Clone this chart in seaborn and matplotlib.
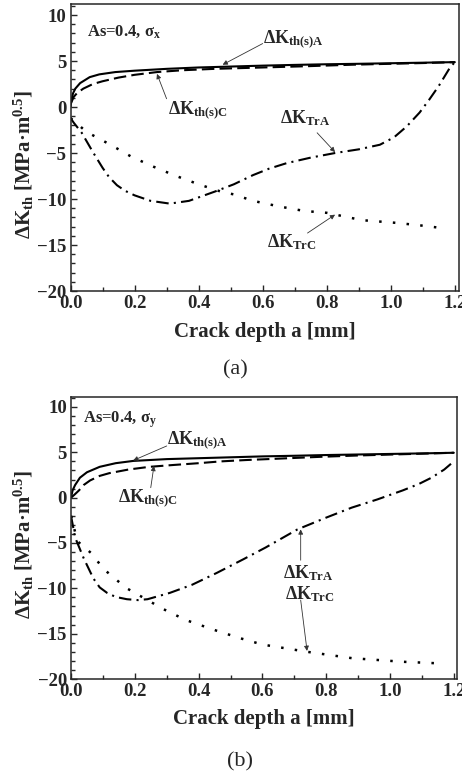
import matplotlib
matplotlib.use("Agg")
import matplotlib.pyplot as plt
import numpy as np
import seaborn as sns
from matplotlib.ticker import MultipleLocator

sns.set_style("ticks")
plt.rcParams["font.family"] = ["Liberation Serif", "DejaVu Serif"]
plt.rcParams["font.weight"] = "bold"
plt.rcParams["mathtext.fontset"] = "custom"
plt.rcParams["mathtext.rm"] = "Liberation Serif:bold"
plt.rcParams["mathtext.bf"] = "Liberation Serif:bold"
plt.rcParams["mathtext.it"] = "Liberation Serif:bold"

# ---- panel (a): sigma_x ----
a_sA_x = [0.0, 0.003, 0.008, 0.015, 0.03, 0.06, 0.09, 0.14, 0.20, 0.30, 0.40, 0.50, 0.60, 0.70, 0.80, 0.90, 1.00, 1.10, 1.20]
a_sA_y = [0.0, 0.8, 1.5, 2.0, 2.6, 3.25, 3.55, 3.8, 3.95, 4.15, 4.3, 4.4, 4.5, 4.58, 4.65, 4.7, 4.76, 4.82, 4.88]

a_sC_x = [0.0, 0.01, 0.02, 0.04, 0.07, 0.10, 0.15, 0.20, 0.27, 0.35, 0.45, 0.55, 0.65, 0.75, 0.88, 1.00, 1.10, 1.20]
a_sC_y = [0.3, 1.1, 1.5, 2.0, 2.5, 2.8, 3.2, 3.5, 3.8, 4.0, 4.15, 4.25, 4.35, 4.45, 4.6, 4.7, 4.78, 4.88]

a_TrA_x = [0.0, 0.01, 0.035, 0.07, 0.10, 0.12, 0.145, 0.17, 0.20, 0.25, 0.31, 0.37, 0.45, 0.51, 0.57, 0.62, 0.675, 0.75, 0.826, 0.90, 0.966, 1.01, 1.05, 1.09, 1.12, 1.15, 1.185, 1.20]
a_TrA_y = [-1.2, -1.7, -2.8, -4.9, -6.6, -7.6, -8.5, -9.1, -9.6, -10.2, -10.5, -10.2, -9.2, -8.4, -7.4, -6.7, -6.1, -5.5, -5.0, -4.6, -4.1, -3.3, -2.1, -0.6, 0.8, 2.3, 4.3, 4.88]

a_TrC_x = [0.0, 0.02, 0.04, 0.066, 0.13, 0.19, 0.26, 0.33, 0.40, 0.47, 0.51, 0.57, 0.65, 0.73, 0.80, 0.91, 1.02, 1.10, 1.17]
a_TrC_y = [-1.2, -1.8, -2.4, -3.0, -4.2, -5.4, -6.5, -7.5, -8.4, -9.2, -9.5, -10.2, -10.8, -11.3, -11.5, -12.3, -12.6, -12.9, -13.2]

# ---- panel (b): sigma_y ----
b_sA_x = [0.0, 0.005, 0.013, 0.028, 0.05, 0.09, 0.14, 0.195, 0.30, 0.40, 0.50, 0.60, 0.70, 0.80, 0.90, 1.00, 1.10, 1.20]
b_sA_y = [0.0, 0.8, 1.4, 2.2, 2.8, 3.4, 3.8, 4.05, 4.25, 4.35, 4.45, 4.55, 4.62, 4.7, 4.76, 4.82, 4.88, 4.95]

b_sC_x = [0.0, 0.01, 0.025, 0.04, 0.06, 0.09, 0.12, 0.18, 0.246, 0.32, 0.40, 0.47, 0.55, 0.65, 0.78, 0.90, 1.00, 1.10, 1.20]
b_sC_y = [0.0, 0.3, 0.8, 1.4, 1.9, 2.4, 2.7, 3.1, 3.4, 3.6, 3.8, 4.0, 4.15, 4.3, 4.5, 4.65, 4.75, 4.85, 4.95]

b_TrA_x = [0.0, 0.013, 0.04, 0.07, 0.09, 0.113, 0.14, 0.175, 0.21, 0.24, 0.27, 0.31, 0.38, 0.457, 0.54, 0.61, 0.71, 0.80, 0.88, 0.96, 1.04, 1.09, 1.13, 1.17, 1.20]
b_TrA_y = [-2.0, -4.4, -6.7, -8.9, -9.9, -10.5, -10.95, -11.2, -11.3, -11.2, -10.9, -10.5, -9.6, -8.3, -6.8, -5.5, -3.5, -2.2, -1.1, -0.2, 0.8, 1.5, 2.2, 3.1, 4.0]

b_TrC_x = [0.0, 0.02, 0.066, 0.10, 0.14, 0.175, 0.23, 0.29, 0.36, 0.45, 0.53, 0.60, 0.74, 0.88, 1.04, 1.17]
b_TrC_y = [-2.0, -4.8, -6.2, -7.8, -9.0, -10.0, -11.1, -12.3, -13.5, -14.6, -15.5, -16.2, -17.0, -17.7, -18.1, -18.3]

W, H = 462, 773
fig = plt.figure(figsize=(W / 100, H / 100), dpi=100)


def px_axes(left, top, right, bottom):
    return fig.add_axes([left / W, 1 - bottom / H, (right - left) / W, (bottom - top) / H])


ax_a = px_axes(70.5, 4, 459, 291)
ax_b = px_axes(71, 397, 457, 679)

arrow_kw = dict(arrowstyle="-|>", lw=0.6, color="#333333", mutation_scale=7, shrinkA=0, shrinkB=0)


def draw_panel(ax, curves, xmax, ymax, label_y, ann, stress):
    styles = ["-", (0, (6, 2.5)), (0, (6, 2.5, 1, 2.5)), (0, (1, 4.5))]
    widths = [1.5, 1.5, 1.5, 1.8]
    for (xs, ys), ls, lw in zip(curves, styles, widths):
        sns.lineplot(x=xs, y=ys, ax=ax, color="black", linestyle=ls, lw=lw,
                     estimator=None, sort=False, legend=False)
    ax.set_xlim(0, xmax)
    ax.set_ylim(-20, ymax)
    ax.xaxis.set_major_locator(MultipleLocator(0.2))
    ax.xaxis.set_minor_locator(MultipleLocator(0.1))
    ax.yaxis.set_major_locator(MultipleLocator(5))
    ax.yaxis.set_minor_locator(MultipleLocator(1))
    ax.xaxis.set_major_formatter(matplotlib.ticker.FormatStrFormatter("%.1f"))
    ax.tick_params(which="both", direction="in", top=False, right=False, width=1, labelsize=13.5)
    ax.tick_params(which="major", length=4.5, pad=3)
    ax.tick_params(which="minor", length=3)
    for sp in ax.spines.values():
        sp.set_linewidth(1.1)
        sp.set_visible(True)
    ax.set_xlabel("Crack depth a [mm]", fontsize=15, fontweight="bold")
    ax.set_ylabel(r"ΔK$_{\mathbf{th}}$ [MPa·m$^{\mathbf{0.5}}$]", fontsize=15, fontweight="bold")
    ax.xaxis.set_label_coords(0.5, -0.108)
    ax.yaxis.set_label_coords(-0.09, label_y)
    ax.text(ann["as"][0], ann["as"][1], "As=0.4, σ$_{\\mathbf{" + stress + "}}$",
            fontsize=12, fontweight="bold", va="center", ha="left")
    for key, name in [("sA", r"ΔK$_{\mathbf{th(s)A}}$"), ("sC", r"ΔK$_{\mathbf{th(s)C}}$"),
                      ("TrA", r"ΔK$_{\mathbf{TrA}}$"), ("TrC", r"ΔK$_{\mathbf{TrC}}$")]:
        txt, tail, head = ann[key]
        ax.text(txt[0], txt[1], name, fontsize=13, fontweight="bold", va="center", ha="left")
        ax.annotate("", xy=head, xytext=tail, arrowprops=arrow_kw)


ann_a = {
    "as": (0.05, 8.2),
    "sA": ((0.60, 7.4), (0.60, 6.9), (0.475, 4.6)),
    "sC": ((0.305, -0.3), (0.30, 0.9), (0.27, 3.6)),
    "TrA": ((0.654, -1.2), (0.77, -2.8), (0.826, -4.9)),
    "TrC": ((0.614, -14.7), (0.74, -13.7), (0.826, -11.7)),
}
ann_b = {
    "as": (0.038, 8.6),
    "sA": ((0.30, 6.3), (0.30, 5.7), (0.195, 4.1)),
    "sC": ((0.148, -0.1), (0.25, 1.1), (0.26, 3.5)),
    "TrA": ((0.663, -8.3), (0.72, -6.9), (0.72, -3.5)),
    "TrC": ((0.67, -10.6), (0.72, -11.3), (0.74, -16.9)),
}

draw_panel(ax_a, [(a_sA_x, a_sA_y), (a_sC_x, a_sC_y), (a_TrA_x, a_TrA_y), (a_TrC_x, a_TrC_y)],
           1.213, 11.2, 0.44, ann_a, "x")
draw_panel(ax_b, [(b_sA_x, b_sA_y), (b_sC_x, b_sC_y), (b_TrA_x, b_TrA_y), (b_TrC_x, b_TrC_y)],
           1.21, 11.1, 0.475, ann_b, "y")

fig.text(235 / W, 1 - 370 / H, "(a)", fontsize=16, fontweight="normal", ha="center", va="center")
fig.text(240 / W, 1 - 762 / H, "(b)", fontsize=16, fontweight="normal", ha="center", va="center")

fig.savefig("out.png", dpi=100)
